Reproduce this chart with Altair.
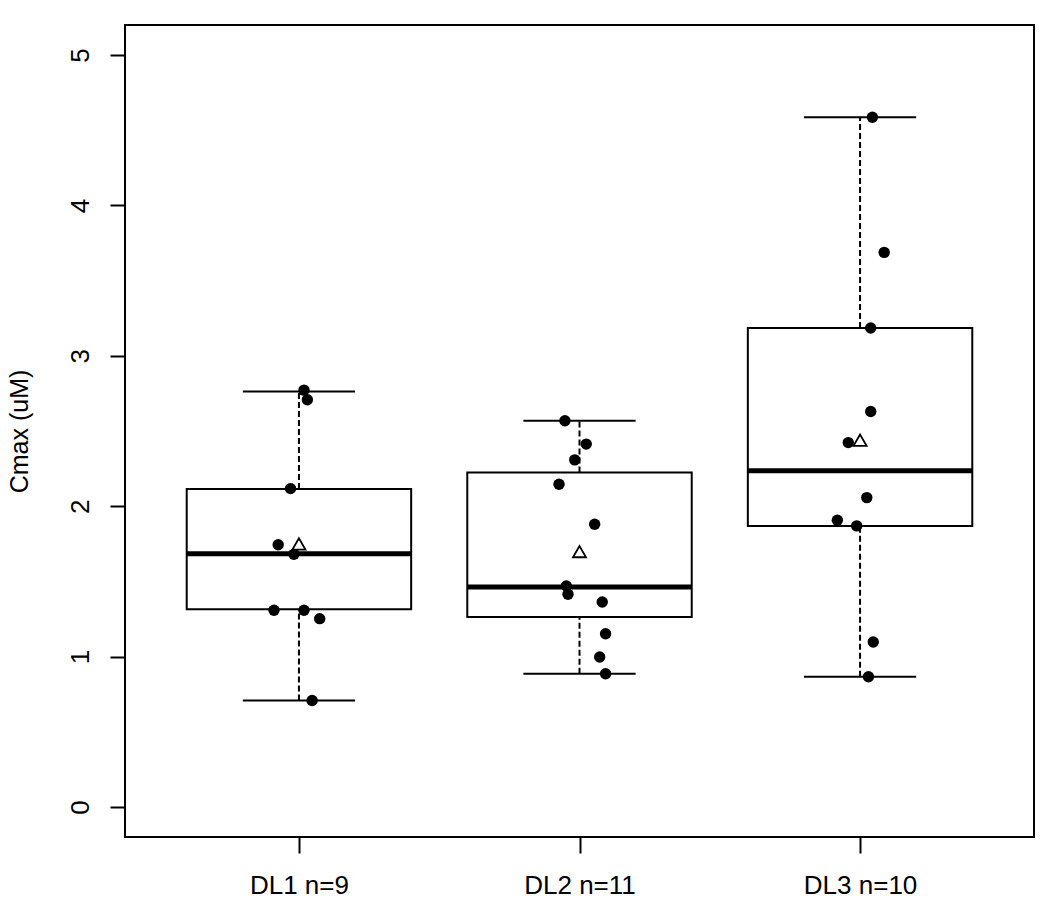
import altair as alt
import pandas as pd

# ---- data ----
groups = ["DL1 n=9", "DL2 n=11", "DL3 n=10"]
positions = [1, 2, 3]

lower_whisker = [0.708, 0.886, 0.866]
q1 = [1.314, 1.263, 1.869]
median = [1.684, 1.463, 2.235]
q3 = [2.115, 2.224, 3.185]
upper_whisker = [2.763, 2.568, 4.587]
means = [1.749, 1.698, 2.439]

dl1_values = [2.772, 2.708, 2.117, 1.744, 1.680, 1.308, 1.308, 1.252, 0.708]
dl1_jitter = [0.018, 0.030, -0.030, -0.074, -0.018, -0.089, 0.018, 0.074, 0.047]
dl2_values = [2.568, 2.413, 2.308, 2.146, 1.880, 1.469, 1.414, 1.363, 1.152, 0.997, 0.886]
dl2_jitter = [-0.052, 0.024, -0.017, -0.073, 0.054, -0.047, -0.041, 0.081, 0.093, 0.072, 0.093]
dl3_values = [4.587, 3.688, 3.185, 2.630, 2.423, 2.057, 1.907, 1.869, 1.097, 0.866]
dl3_jitter = [0.044, 0.086, 0.038, 0.038, -0.042, 0.024, -0.081, -0.012, 0.047, 0.030]

y_ticks = [0, 1, 2, 3, 4, 5]

# ---- tables ----
stats = pd.DataFrame({
    "group": groups,
    "pos": positions,
    "lower": lower_whisker,
    "q1": q1,
    "median": median,
    "q3": q3,
    "upper": upper_whisker,
    "mean": means,
})

pts_rows = []
for pos, vals, jit in [(1, dl1_values, dl1_jitter), (2, dl2_values, dl2_jitter), (3, dl3_values, dl3_jitter)]:
    for v, j in zip(vals, jit):
        pts_rows.append({"pos": pos, "jitter": j, "value": v})
pts = pd.DataFrame(pts_rows)

label_expr = "datum.value == 1 ? '%s' : datum.value == 2 ? '%s' : datum.value == 3 ? '%s' : ''" % tuple(groups)

xscale = alt.Scale(domain=[0.38, 3.62], nice=False, zero=False)
yscale = alt.Scale(domain=[-0.2, 5.2], nice=False, zero=False)

xaxis = alt.Axis(values=positions, labelExpr=label_expr, title=None, grid=False, domain=False,
                 tickSize=16, tickWidth=2, tickColor="black", labelFontSize=26, labelColor="black",
                 labelFont="Liberation Sans", labelPadding=19, labelBaseline="top")
yaxis = alt.Axis(values=y_ticks, format="d", title="Cmax (uM)", grid=False, domain=False,
                 tickSize=15, tickWidth=2, tickColor="black", labelFontSize=26, labelColor="black",
                 labelFont="Liberation Sans", labelAngle=270, labelAlign="center",
                 labelBaseline="alphabetic", labelPadding=22,
                 titleFontSize=25, titleFont="Liberation Sans", titleFontWeight="normal",
                 titleColor="black", titleX=-98, titleBaseline="alphabetic")

base = alt.Chart(stats)

box = base.transform_calculate(
    xl="datum.pos - 0.4", xr="datum.pos + 0.4"
).mark_rect(fill="white", stroke="black", strokeWidth=2).encode(
    x=alt.X("xl:Q", scale=xscale, axis=xaxis),
    x2="xr:Q",
    y=alt.Y("q1:Q", scale=yscale, axis=yaxis),
    y2="q3:Q",
)

med = base.transform_calculate(
    xl="datum.pos - 0.4", xr="datum.pos + 0.4"
).mark_rule(color="black", strokeWidth=5).encode(
    x=alt.X("xl:Q", scale=xscale), x2="xr:Q", y=alt.Y("median:Q", scale=yscale)
)

whisk_up = base.mark_rule(color="black", strokeWidth=2, strokeDash=[6, 3]).encode(
    x=alt.X("pos:Q", scale=xscale), y=alt.Y("q3:Q", scale=yscale), y2="upper:Q"
)
whisk_lo = base.mark_rule(color="black", strokeWidth=2, strokeDash=[6, 3]).encode(
    x=alt.X("pos:Q", scale=xscale), y=alt.Y("lower:Q", scale=yscale), y2="q1:Q"
)

cap_up = base.transform_calculate(
    xl="datum.pos - 0.2", xr="datum.pos + 0.2"
).mark_rule(color="black", strokeWidth=2).encode(
    x=alt.X("xl:Q", scale=xscale), x2="xr:Q", y=alt.Y("upper:Q", scale=yscale)
)
cap_lo = base.transform_calculate(
    xl="datum.pos - 0.2", xr="datum.pos + 0.2"
).mark_rule(color="black", strokeWidth=2).encode(
    x=alt.X("xl:Q", scale=xscale), x2="xr:Q", y=alt.Y("lower:Q", scale=yscale)
)

points = alt.Chart(pts).transform_calculate(
    xj="datum.pos + datum.jitter"
).mark_circle(color="black", opacity=1, size=130).encode(
    x=alt.X("xj:Q", scale=xscale), y=alt.Y("value:Q", scale=yscale)
)

mean_pts = base.mark_point(shape="triangle-up", filled=False, stroke="black", fill="white",
                           fillOpacity=1, strokeWidth=1.8, size=170, opacity=1).encode(
    x=alt.X("pos:Q", scale=xscale), y=alt.Y("mean:Q", scale=yscale)
)

chart = alt.layer(box, whisk_up, whisk_lo, cap_up, cap_lo, med, points, mean_pts).properties(
    width=909, height=812,
    background="white",
    autosize=alt.AutoSizeParams(type="none"),
    padding={"left": 117, "top": 17, "right": 8, "bottom": 66},
).configure_view(stroke="black", strokeWidth=2)

chart.save("out.html", embed_options={"renderer": "svg", "actions": False})
